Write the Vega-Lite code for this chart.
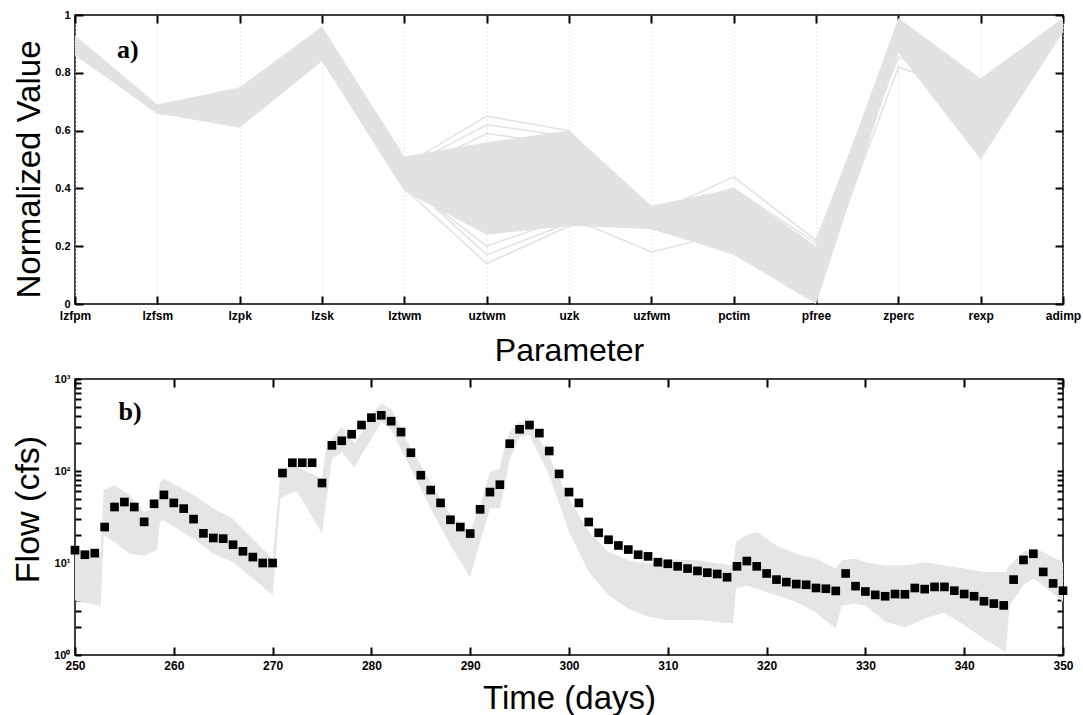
{
  "$schema": "https://vega.github.io/schema/vega-lite/v6.json",
  "background": "white",
  "padding": {"left": 11, "top": 8, "right": 6, "bottom": 2},
  "spacing": 5,
  "config": {
    "view": {"stroke": "black", "strokeWidth": 1.5},
    "axis": {
      "domain": false,
      "ticks": true,
      "zindex": 1,
      "tickColor": "black",
      "tickWidth": 2,
      "tickSize": 8,
      "offset": -8,
      "labelColor": "black",
      "titleColor": "black",
      "labelFont": "Liberation Sans",
      "labelFontWeight": "bold",
      "labelFontSize": 11,
      "labelFlush": false,
      "labelOverlap": false,
      "titleFont": "Liberation Sans",
      "titleFontWeight": "normal",
      "titleFontSize": 32
    }
  },
  "datasets": {
    "band_a": [
      {"param": "lzfpm", "lo": 0.86, "hi": 0.93},
      {"param": "lzfsm", "lo": 0.66, "hi": 0.69},
      {"param": "lzpk", "lo": 0.61, "hi": 0.75},
      {"param": "lzsk", "lo": 0.84, "hi": 0.96},
      {"param": "lztwm", "lo": 0.39, "hi": 0.51},
      {"param": "uztwm", "lo": 0.24, "hi": 0.56},
      {"param": "uzk", "lo": 0.27, "hi": 0.60},
      {"param": "uzfwm", "lo": 0.26, "hi": 0.34},
      {"param": "pctim", "lo": 0.17, "hi": 0.40},
      {"param": "pfree", "lo": 0.0, "hi": 0.20},
      {"param": "zperc", "lo": 0.87, "hi": 0.99},
      {"param": "rexp", "lo": 0.50, "hi": 0.78},
      {"param": "adimp", "lo": 0.94, "hi": 0.99}
    ],
    "lines_a": [
      {"id": 1, "param": "lzfpm", "value": 0.91}, {"id": 1, "param": "lzfsm", "value": 0.68}, {"id": 1, "param": "lzpk", "value": 0.72}, {"id": 1, "param": "lzsk", "value": 0.92}, {"id": 1, "param": "lztwm", "value": 0.48}, {"id": 1, "param": "uztwm", "value": 0.65}, {"id": 1, "param": "uzk", "value": 0.60}, {"id": 1, "param": "uzfwm", "value": 0.31}, {"id": 1, "param": "pctim", "value": 0.44}, {"id": 1, "param": "pfree", "value": 0.22}, {"id": 1, "param": "zperc", "value": 0.95}, {"id": 1, "param": "rexp", "value": 0.72}, {"id": 1, "param": "adimp", "value": 0.97},
      {"id": 2, "param": "lzfpm", "value": 0.90}, {"id": 2, "param": "lzfsm", "value": 0.67}, {"id": 2, "param": "lzpk", "value": 0.70}, {"id": 2, "param": "lzsk", "value": 0.90}, {"id": 2, "param": "lztwm", "value": 0.47}, {"id": 2, "param": "uztwm", "value": 0.62}, {"id": 2, "param": "uzk", "value": 0.58}, {"id": 2, "param": "uzfwm", "value": 0.32}, {"id": 2, "param": "pctim", "value": 0.40}, {"id": 2, "param": "pfree", "value": 0.21}, {"id": 2, "param": "zperc", "value": 0.97}, {"id": 2, "param": "rexp", "value": 0.70}, {"id": 2, "param": "adimp", "value": 0.96},
      {"id": 3, "param": "lzfpm", "value": 0.89}, {"id": 3, "param": "lzfsm", "value": 0.67}, {"id": 3, "param": "lzpk", "value": 0.66}, {"id": 3, "param": "lzsk", "value": 0.88}, {"id": 3, "param": "lztwm", "value": 0.45}, {"id": 3, "param": "uztwm", "value": 0.59}, {"id": 3, "param": "uzk", "value": 0.55}, {"id": 3, "param": "uzfwm", "value": 0.30}, {"id": 3, "param": "pctim", "value": 0.35}, {"id": 3, "param": "pfree", "value": 0.18}, {"id": 3, "param": "zperc", "value": 0.93}, {"id": 3, "param": "rexp", "value": 0.68}, {"id": 3, "param": "adimp", "value": 0.97},
      {"id": 4, "param": "lzfpm", "value": 0.88}, {"id": 4, "param": "lzfsm", "value": 0.67}, {"id": 4, "param": "lzpk", "value": 0.65}, {"id": 4, "param": "lzsk", "value": 0.87}, {"id": 4, "param": "lztwm", "value": 0.42}, {"id": 4, "param": "uztwm", "value": 0.20}, {"id": 4, "param": "uzk", "value": 0.30}, {"id": 4, "param": "uzfwm", "value": 0.18}, {"id": 4, "param": "pctim", "value": 0.25}, {"id": 4, "param": "pfree", "value": 0.12}, {"id": 4, "param": "zperc", "value": 0.855}, {"id": 4, "param": "rexp", "value": 0.73}, {"id": 4, "param": "adimp", "value": 0.96},
      {"id": 5, "param": "lzfpm", "value": 0.87}, {"id": 5, "param": "lzfsm", "value": 0.66}, {"id": 5, "param": "lzpk", "value": 0.63}, {"id": 5, "param": "lzsk", "value": 0.86}, {"id": 5, "param": "lztwm", "value": 0.40}, {"id": 5, "param": "uztwm", "value": 0.14}, {"id": 5, "param": "uzk", "value": 0.27}, {"id": 5, "param": "uzfwm", "value": 0.30}, {"id": 5, "param": "pctim", "value": 0.20}, {"id": 5, "param": "pfree", "value": 0.05}, {"id": 5, "param": "zperc", "value": 0.82}, {"id": 5, "param": "rexp", "value": 0.72}, {"id": 5, "param": "adimp", "value": 0.95},
      {"id": 6, "param": "lzfpm", "value": 0.90}, {"id": 6, "param": "lzfsm", "value": 0.68}, {"id": 6, "param": "lzpk", "value": 0.68}, {"id": 6, "param": "lzsk", "value": 0.89}, {"id": 6, "param": "lztwm", "value": 0.43}, {"id": 6, "param": "uztwm", "value": 0.17}, {"id": 6, "param": "uzk", "value": 0.28}, {"id": 6, "param": "uzfwm", "value": 0.26}, {"id": 6, "param": "pctim", "value": 0.18}, {"id": 6, "param": "pfree", "value": 0.08}, {"id": 6, "param": "zperc", "value": 0.90}, {"id": 6, "param": "rexp", "value": 0.60}, {"id": 6, "param": "adimp", "value": 0.97}
    ],
    "band_b": [
      {"day": 250, "lo": 3.9, "hi": 14}, {"day": 252.6, "lo": 3.4, "hi": 13}, {"day": 252.9, "lo": 20, "hi": 62}, {"day": 254, "lo": 17, "hi": 70},
      {"day": 255.5, "lo": 12.6, "hi": 55}, {"day": 257, "lo": 12, "hi": 36}, {"day": 258.3, "lo": 14, "hi": 40}, {"day": 258.6, "lo": 28, "hi": 76},
      {"day": 259, "lo": 29, "hi": 83}, {"day": 262, "lo": 18.4, "hi": 55}, {"day": 264, "lo": 12.6, "hi": 39}, {"day": 266, "lo": 10.2, "hi": 30},
      {"day": 268, "lo": 6.8, "hi": 18.4}, {"day": 270, "lo": 4.5, "hi": 11}, {"day": 270.8, "lo": 50, "hi": 98}, {"day": 272, "lo": 59, "hi": 116},
      {"day": 272.5, "lo": 60, "hi": 110}, {"day": 275, "lo": 21, "hi": 83}, {"day": 275.4, "lo": 43, "hi": 174}, {"day": 276, "lo": 135, "hi": 224},
      {"day": 277, "lo": 160, "hi": 300}, {"day": 278.3, "lo": 110, "hi": 200}, {"day": 279, "lo": 150, "hi": 260}, {"day": 280, "lo": 224, "hi": 405},
      {"day": 281, "lo": 340, "hi": 537}, {"day": 282, "lo": 280, "hi": 476}, {"day": 284, "lo": 106, "hi": 174}, {"day": 286, "lo": 39, "hi": 76},
      {"day": 288, "lo": 15.7, "hi": 33}, {"day": 290, "lo": 7.0, "hi": 22}, {"day": 291, "lo": 17, "hi": 42}, {"day": 292, "lo": 39, "hi": 98},
      {"day": 293, "lo": 39, "hi": 106}, {"day": 293.5, "lo": 70, "hi": 191}, {"day": 294, "lo": 135, "hi": 265}, {"day": 295, "lo": 234, "hi": 340},
      {"day": 296, "lo": 246, "hi": 327}, {"day": 297, "lo": 148, "hi": 224}, {"day": 298, "lo": 90, "hi": 142}, {"day": 300, "lo": 21.8, "hi": 50},
      {"day": 302, "lo": 8, "hi": 21.8}, {"day": 304, "lo": 4.47, "hi": 13.2}, {"day": 306, "lo": 3.2, "hi": 10.7}, {"day": 308, "lo": 2.6, "hi": 9.8},
      {"day": 310, "lo": 2.4, "hi": 11}, {"day": 313, "lo": 2.4, "hi": 10.7}, {"day": 316.6, "lo": 2.2, "hi": 9.4}, {"day": 316.9, "lo": 5.25, "hi": 17},
      {"day": 318, "lo": 5.7, "hi": 20}, {"day": 319, "lo": 5.25, "hi": 21.7}, {"day": 321, "lo": 4.47, "hi": 15.5}, {"day": 323, "lo": 3.77, "hi": 12.6},
      {"day": 325, "lo": 2.9, "hi": 11.1}, {"day": 327, "lo": 1.93, "hi": 8.7}, {"day": 327.6, "lo": 3.46, "hi": 10.7}, {"day": 329, "lo": 3.6, "hi": 11.1},
      {"day": 330, "lo": 3.46, "hi": 10.2}, {"day": 332, "lo": 2.3, "hi": 9.4}, {"day": 334, "lo": 2.0, "hi": 9.4}, {"day": 336, "lo": 2.5, "hi": 10.2},
      {"day": 338, "lo": 2.9, "hi": 9.4}, {"day": 340, "lo": 2.1, "hi": 8.7}, {"day": 342, "lo": 1.5, "hi": 8.0}, {"day": 344.2, "lo": 1.07, "hi": 8.0},
      {"day": 344.6, "lo": 3.46, "hi": 9.4}, {"day": 346, "lo": 5.7, "hi": 13.2}, {"day": 347, "lo": 6.8, "hi": 14.3}, {"day": 348, "lo": 5.7, "hi": 13.2},
      {"day": 350, "lo": 3.77, "hi": 10.2}
    ],
    "obs_b": [
      {"day": 250, "flow": 13.8}, {"day": 251, "flow": 12.3}, {"day": 252, "flow": 12.8}, {"day": 253, "flow": 24.6}, {"day": 254, "flow": 40.6},
      {"day": 255, "flow": 46}, {"day": 256, "flow": 40.6}, {"day": 257, "flow": 28}, {"day": 258, "flow": 44}, {"day": 259, "flow": 55},
      {"day": 260, "flow": 45}, {"day": 261, "flow": 39}, {"day": 262, "flow": 30}, {"day": 263, "flow": 21}, {"day": 264, "flow": 18.7},
      {"day": 265, "flow": 18.4}, {"day": 266, "flow": 15.8}, {"day": 267, "flow": 13.4}, {"day": 268, "flow": 11.6}, {"day": 269, "flow": 10},
      {"day": 270, "flow": 10}, {"day": 271, "flow": 95}, {"day": 272, "flow": 123}, {"day": 273, "flow": 123}, {"day": 274, "flow": 123},
      {"day": 275, "flow": 74}, {"day": 276, "flow": 190}, {"day": 277, "flow": 213}, {"day": 278, "flow": 251}, {"day": 279, "flow": 316},
      {"day": 280, "flow": 380}, {"day": 281, "flow": 403}, {"day": 282, "flow": 348}, {"day": 283, "flow": 265}, {"day": 284, "flow": 158},
      {"day": 285, "flow": 90}, {"day": 286, "flow": 62}, {"day": 287, "flow": 45}, {"day": 288, "flow": 29.5}, {"day": 289, "flow": 24.6},
      {"day": 290, "flow": 20.9}, {"day": 291, "flow": 38.3}, {"day": 292, "flow": 59}, {"day": 293, "flow": 71}, {"day": 294, "flow": 198},
      {"day": 295, "flow": 284}, {"day": 296, "flow": 316}, {"day": 297, "flow": 258}, {"day": 298, "flow": 165}, {"day": 299, "flow": 93},
      {"day": 300, "flow": 59}, {"day": 301, "flow": 45}, {"day": 302, "flow": 27.9}, {"day": 303, "flow": 21.3}, {"day": 304, "flow": 17.9},
      {"day": 305, "flow": 15.5}, {"day": 306, "flow": 14}, {"day": 307, "flow": 12.3}, {"day": 308, "flow": 11.8}, {"day": 309, "flow": 10.2},
      {"day": 310, "flow": 9.8}, {"day": 311, "flow": 9.2}, {"day": 312, "flow": 8.7}, {"day": 313, "flow": 8.2}, {"day": 314, "flow": 7.85},
      {"day": 315, "flow": 7.6}, {"day": 316, "flow": 7.0}, {"day": 317, "flow": 9.2}, {"day": 318, "flow": 10.5}, {"day": 319, "flow": 9.2},
      {"day": 320, "flow": 7.7}, {"day": 321, "flow": 6.6}, {"day": 322, "flow": 6.2}, {"day": 323, "flow": 5.9}, {"day": 324, "flow": 5.8},
      {"day": 325, "flow": 5.35}, {"day": 326, "flow": 5.25}, {"day": 327, "flow": 4.97}, {"day": 328, "flow": 7.7}, {"day": 329, "flow": 5.6},
      {"day": 330, "flow": 4.9}, {"day": 331, "flow": 4.5}, {"day": 332, "flow": 4.35}, {"day": 333, "flow": 4.6}, {"day": 334, "flow": 4.57},
      {"day": 335, "flow": 5.35}, {"day": 336, "flow": 5.2}, {"day": 337, "flow": 5.5}, {"day": 338, "flow": 5.5}, {"day": 339, "flow": 5.0},
      {"day": 340, "flow": 4.6}, {"day": 341, "flow": 4.35}, {"day": 342, "flow": 3.84}, {"day": 343, "flow": 3.62}, {"day": 344, "flow": 3.46},
      {"day": 345, "flow": 6.6}, {"day": 346, "flow": 10.8}, {"day": 347, "flow": 12.6}, {"day": 348, "flow": 8.0}, {"day": 349, "flow": 6.0},
      {"day": 350, "flow": 5.0}
    ]
  },
  "vconcat": [
    {
      "width": 988,
      "height": 289,
      "layer": [
        {
          "data": {"name": "band_a"},
          "mark": {"type": "area", "color": "#e2e2e2", "opacity": 1},
          "encoding": {
            "x": {
              "field": "param", "type": "ordinal",
              "scale": {"type": "point", "padding": 0, "domain": ["lzfpm", "lzfsm", "lzpk", "lzsk", "lztwm", "uztwm", "uzk", "uzfwm", "pctim", "pfree", "zperc", "rexp", "adimp"]},
              "axis": {"orient": "bottom", "title": "Parameter", "labelAngle": 0, "labelPadding": 6, "labelFontSize": 12, "grid": true, "gridColor": "#d0d0d0", "gridDash": [1, 3], "gridWidth": 1, "titlePadding": 14}
            },
            "y": {
              "field": "lo", "type": "quantitative",
              "scale": {"domain": [0, 1], "nice": false},
              "axis": {"orient": "left", "title": "Normalized Value", "titleFontSize": 33, "titleY": 154, "values": [0, 0.2, 0.4, 0.6, 0.8, 1], "format": "~g", "labelPadding": 5, "grid": false, "titlePadding": 8}
            },
            "y2": {"field": "hi"}
          }
        },
        {
          "data": {"name": "lines_a"},
          "mark": {"type": "line", "color": "#e2e2e2", "strokeWidth": 1.5},
          "encoding": {
            "x": {"field": "param", "type": "ordinal", "axis": {"orient": "top", "labels": false, "title": null, "grid": false}},
            "y": {"field": "value", "type": "quantitative", "axis": {"orient": "right", "labels": false, "title": null, "grid": false, "values": [0, 0.2, 0.4, 0.6, 0.8, 1]}},
            "detail": {"field": "id"}
          }
        },
        {
          "data": {"values": [{"param": "lzfpm", "v": 0.88, "label": "a)"}]},
          "mark": {"type": "text", "font": "Liberation Serif", "fontWeight": "bold", "fontSize": 26, "align": "left", "baseline": "middle", "dx": 42},
          "encoding": {
            "x": {"field": "param", "type": "ordinal", "axis": null},
            "y": {"field": "v", "type": "quantitative", "axis": null},
            "text": {"field": "label"}
          }
        }
      ],
      "resolve": {"axis": {"x": "independent", "y": "independent"}}
    },
    {
      "width": 988,
      "height": 276,
      "layer": [
        {
          "data": {"name": "band_b"},
          "mark": {"type": "area", "color": "#e5e5e5", "opacity": 1},
          "encoding": {
            "x": {
              "field": "day", "type": "quantitative",
              "scale": {"domain": [250, 350], "nice": false, "zero": false},
              "axis": {"orient": "bottom", "title": "Time (days)", "titleFontSize": 33, "values": [250, 260, 270, 280, 290, 300, 310, 320, 330, 340, 350], "labelFontSize": 12, "labelPadding": 5, "grid": false, "titlePadding": 11}
            },
            "y": {
              "field": "lo", "type": "quantitative",
              "scale": {"type": "log", "domain": [1, 1000], "nice": false},
              "axis": {
                "orient": "left", "title": "Flow (cfs)", "titleFontSize": 34, "titleY": 130, "grid": false, "titlePadding": 8, "labelPadding": 5,
                "tickSize": 6, "offset": -6,
                "values": [1, 2, 3, 4, 5, 6, 7, 8, 9, 10, 20, 30, 40, 50, 60, 70, 80, 90, 100, 200, 300, 400, 500, 600, 700, 800, 900, 1000],
                "labelExpr": "datum.value == 1 ? '10⁰' : datum.value == 10 ? '10¹' : datum.value == 100 ? '10²' : datum.value == 1000 ? '10³' : ''"
              }
            },
            "y2": {"field": "hi"}
          }
        },
        {
          "data": {"name": "obs_b"},
          "mark": {"type": "point", "shape": "square", "filled": true, "color": "black", "size": 75, "opacity": 1},
          "encoding": {
            "x": {"field": "day", "type": "quantitative", "axis": {"orient": "top", "labels": false, "title": null, "grid": false, "values": [250, 260, 270, 280, 290, 300, 310, 320, 330, 340, 350]}},
            "y": {
              "field": "flow", "type": "quantitative",
              "axis": {
                "orient": "right", "labels": false, "title": null, "grid": false, "tickSize": 6, "offset": -6,
                "values": [1, 2, 3, 4, 5, 6, 7, 8, 9, 10, 20, 30, 40, 50, 60, 70, 80, 90, 100, 200, 300, 400, 500, 600, 700, 800, 900, 1000]
              }
            }
          }
        },
        {
          "data": {"values": [{"day": 254.4, "flow": 440, "label": "b)"}]},
          "mark": {"type": "text", "font": "Liberation Serif", "fontWeight": "bold", "fontSize": 26, "align": "left", "baseline": "middle"},
          "encoding": {
            "x": {"field": "day", "type": "quantitative", "axis": null},
            "y": {"field": "flow", "type": "quantitative", "axis": null},
            "text": {"field": "label"}
          }
        }
      ],
      "resolve": {"axis": {"x": "independent", "y": "independent"}}
    }
  ]
}
